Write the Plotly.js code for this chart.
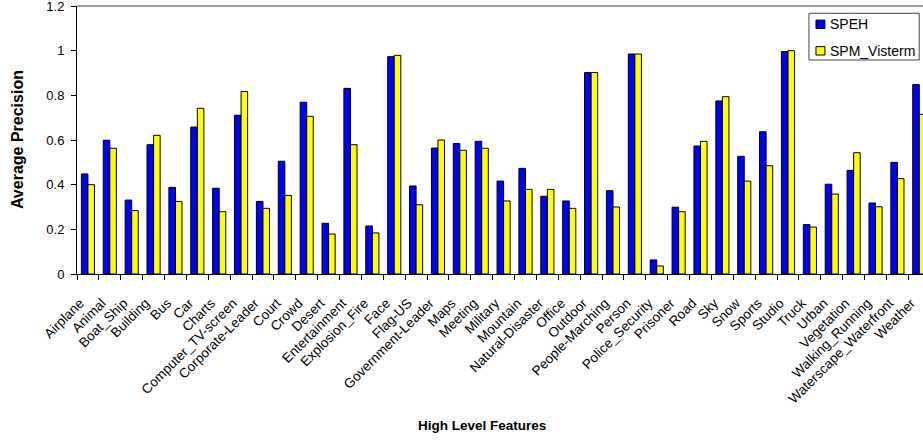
<!DOCTYPE html>
<html>
<head>
<meta charset="utf-8">
<script src="https://cdn.plot.ly/plotly-3.0.1.min.js"></script>
<style>html,body{margin:0;padding:0;background:#fff;}#chart{width:923px;height:441px;}</style>
</head>
<body>
<div id="chart"></div>
<script>
var categories = ["Airplane","Animal","Boat_Ship","Building","Bus","Car","Charts","Computer_TV-screen","Corporate-Leader","Court","Crowd","Desert","Entertainment","Explosion_Fire","Face","Flag-US","Government-Leader","Maps","Meeting","Military","Mountain","Natural-Disaster","Office","Outdoor","People-Marching","Person","Police_Security","Prisoner","Road","Sky","Snow","Sports","Studio","Truck","Urban","Vegetation","Walking_Running","Waterscape_Waterfront","Weather"];
var speh = [0.448,0.599,0.331,0.579,0.388,0.658,0.384,0.711,0.325,0.505,0.769,0.227,0.831,0.215,0.973,0.394,0.564,0.584,0.594,0.416,0.473,0.348,0.327,0.902,0.373,0.985,0.063,0.299,0.573,0.775,0.527,0.637,0.996,0.221,0.402,0.464,0.318,0.500,0.848];
var spmVisterm = [0.400,0.563,0.284,0.621,0.325,0.742,0.279,0.817,0.294,0.352,0.706,0.179,0.579,0.184,0.979,0.310,0.600,0.554,0.563,0.327,0.379,0.379,0.294,0.902,0.300,0.985,0.036,0.279,0.594,0.794,0.416,0.485,1.000,0.210,0.358,0.543,0.301,0.427,0.715];
var seriesNames = ["SPEH","SPM_Visterm"];
var seriesColors = ["#0000FF","#FFFF00"];
var yTicks = [0,0.2,0.4,0.6,0.8,1,1.2];
var yTickLabels = ["0","0.2","0.4","0.6","0.8","1","1.2"];

var font = "Liberation Sans, Arial, sans-serif";
var traces = [
  {type:"bar", name:seriesNames[0], x:categories, y:speh,
   marker:{color:seriesColors[0], line:{color:"#000000", width:1}}},
  {type:"bar", name:seriesNames[1], x:categories, y:spmVisterm,
   marker:{color:seriesColors[1], line:{color:"#000000", width:1}}}
];

// legend box drawn in paper coordinates (style only)
var lgX0 = 0.8652, lgX1 = 0.9955, lgY0 = 0.7985, lgY1 = 0.9728;
var sqX0 = 0.8735, sqX1 = 0.8841;
var rowY = [0.9317, 0.8328];
var sqH = 0.0157;
var shapes = [
  {type:"line", xref:"paper", yref:"paper", x0:0, x1:1, y0:1, y1:1,
   line:{color:"#808080", width:1.5}},
  {type:"rect", xref:"paper", yref:"paper", x0:lgX0, x1:lgX1, y0:lgY0, y1:lgY1,
   fillcolor:"#ffffff", line:{color:"#444444", width:1}}
];
var annotations = [
  {text:"<b>High Level Features</b>", xref:"paper", yref:"paper", x:0.479, y:-0.567,
   xanchor:"center", yanchor:"middle", showarrow:false, font:{family:font, size:13.5, color:"#000"}},
  {text:"<b>Average Precision</b>", xref:"paper", yref:"paper", x:-0.0708, y:0.5,
   xanchor:"center", yanchor:"middle", textangle:-90, showarrow:false, font:{family:font, size:16, color:"#000"}}
];
for (var i = 0; i < seriesNames.length; i++) {
  shapes.push({type:"rect", xref:"paper", yref:"paper", x0:sqX0, x1:sqX1,
    y0:rowY[i]-sqH, y1:rowY[i]+sqH, fillcolor:seriesColors[i], line:{color:"#000", width:1}});
  annotations.push({text:seriesNames[i], xref:"paper", yref:"paper", x:0.8877, y:rowY[i],
    xanchor:"left", yanchor:"middle", showarrow:false, font:{family:font, size:14, color:"#000"}});
}

var layout = {
  width:923, height:441,
  margin:{l:77, r:0, t:6, b:167},
  paper_bgcolor:"#ffffff", plot_bgcolor:"#ffffff",
  font:{family:font, size:13, color:"#000"},
  barmode:"group", bargap:0.4, bargroupgap:0,
  showlegend:false,
  xaxis:{type:"category", range:[-0.5, 38.17], tickangle:-45,
         showline:true, linecolor:"#000", linewidth:1,
         ticks:"outside", ticklen:5, tickcolor:"#000", tickson:"boundaries",
         ticklabelstandoff:15, ticklabelshift:-8,
         showgrid:false, zeroline:false, tickfont:{family:font, size:13.5, color:"#000"},
         automargin:false},
  yaxis:{range:[0,1.2], tickvals:yTicks, ticktext:yTickLabels,
         showline:true, linecolor:"#000", linewidth:1,
         ticks:"outside", ticklen:5, tickcolor:"#000", ticklabelstandoff:4,
         ticklabeloverflow:"allow",
         showgrid:false, zeroline:false, tickfont:{family:font, size:13, color:"#000"},
         automargin:false},
  shapes:shapes,
  annotations:annotations
};
Plotly.newPlot("chart", traces, layout, {displayModeBar:false, staticPlot:true});
</script>
</body>
</html>
